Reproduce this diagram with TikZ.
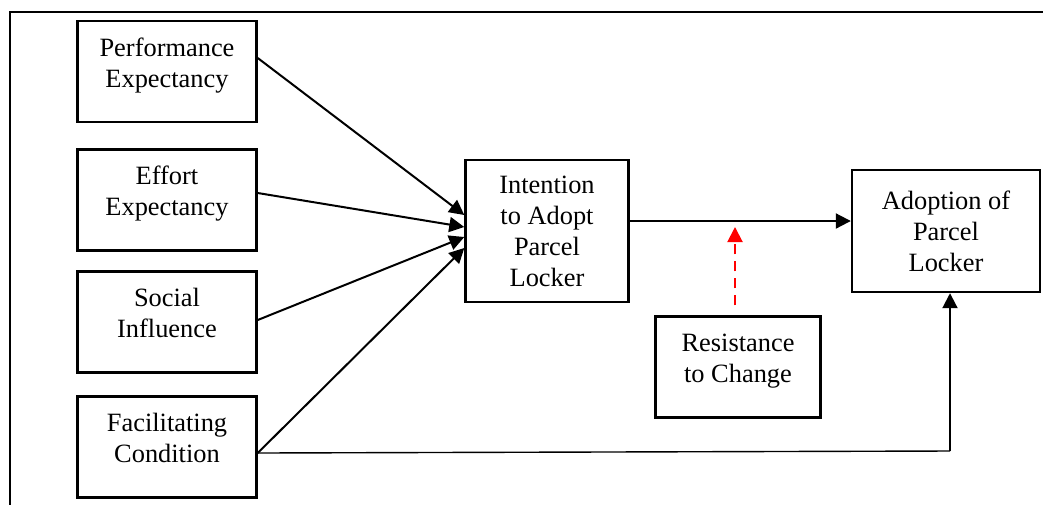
\documentclass[tikz,border=0pt]{standalone}
\usepackage{fontspec}
\setmainfont{Liberation Serif}
\usetikzlibrary{positioning, arrows.meta}

\begin{document}
\begin{tikzpicture}[x=0.5pt, y=-0.5pt, >={Triangle[length=7.5pt,width=7.5pt]},
        box/.style={draw, line width=1.2pt, align=center, inner sep=2pt,
            font=\fontsize{13.2}{15.5}\selectfont},
        side/.style={box, minimum width=89.5pt, minimum height=50.5pt, text depth=9pt},
        link/.style={->, line width=1pt},
        moderator/.style={->, red, line width=1pt, dash pattern=on 5pt off 3.5pt}]
        \useasboundingbox (0,0) rectangle (1043,505);
        \draw[line width=1.1pt] (1043,12) -- (10,12) -- (10,505);

        % predictors
        \node (PE) [side] at (167,71.5) {Performance\\Expectancy};
        \node (EE) [side] at (167,200) {Effort\\Expectancy};
        \node (SI) [side] at (167,322) {Social\\Influence};
        \node (FC) [side] at (167,447) {Facilitating\\Condition};

        \node (IA) [box, minimum width=81.5pt, minimum height=71pt] at (547,231) {Intention\\to Adopt\\Parcel\\Locker};
        \node (AP) [box, minimum width=94pt, minimum height=61pt] at (946,231) {Adoption of\\Parcel\\Locker};
        \node (RC) [side, minimum width=82.5pt] at (738,367) {Resistance\\to Change};

        \coordinate (tip) at (735,227);
        \coordinate (turn) at (950,451);

        \path
            ([yshift=6.75pt]PE.east) edge[link] ([yshift=8pt]IA.west)
            ([yshift=3.5pt]EE.east) edge[link] ([yshift=2pt]IA.west)
            ([yshift=1pt]SI.east) edge[link] ([yshift=-3pt]IA.west)
            ([yshift=-3pt]FC.east) edge[link] ([yshift=-8.5pt]IA.west)
            ([yshift=5pt]IA.east) edge[link] ([yshift=5pt]AP.west)
            ([xshift=-1.5pt,yshift=5pt]RC.north) edge[moderator] (tip);

        \draw[line width=0.7pt] ([yshift=-3pt]FC.east) -- (turn);
        \draw[link] (turn) -- ([xshift=2pt]AP.south);
    \end{tikzpicture}
\end{document}
